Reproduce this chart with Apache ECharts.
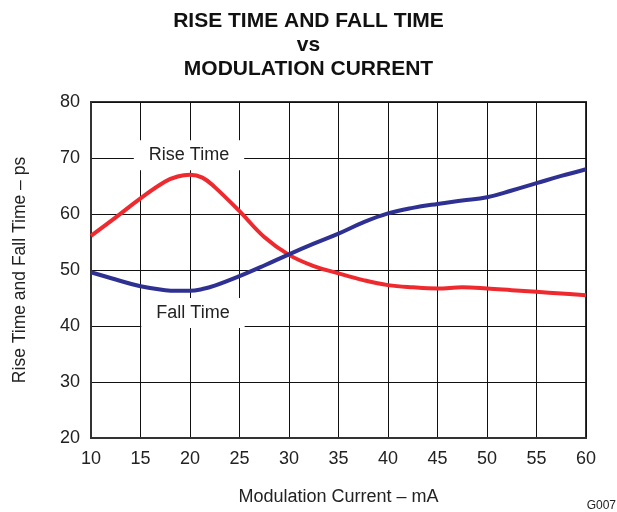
<!DOCTYPE html>
<html><head><meta charset="utf-8">
<script src="https://cdn.jsdelivr.net/npm/echarts@6/dist/echarts.min.js"></script>
<style>html,body{margin:0;padding:0;background:#fff}#c{width:617px;height:512px}</style>
</head><body><div id="c"></div>
<script>
const current = [10, 12.5, 15, 17.5, 18.75, 20, 21.25, 22.5, 25, 27.5, 30, 32.5, 35, 37.5, 40, 42.5, 45, 47.5, 50, 52.5, 55, 57.5, 60];
const riseTime = [56.1, 59.4, 62.8, 65.8, 66.7, 67.0, 66.5, 64.8, 60.5, 55.9, 52.7, 50.7, 49.4, 48.2, 47.3, 46.9, 46.7, 46.9, 46.7, 46.4, 46.1, 45.8, 45.5];
const fallTime = [49.6, 48.3, 47.1, 46.4, 46.3, 46.3, 46.6, 47.2, 48.9, 50.8, 52.8, 54.7, 56.5, 58.5, 60.1, 61.1, 61.8, 62.4, 63.0, 64.2, 65.5, 66.8, 68.0];
const xTicks = [10, 15, 20, 25, 30, 35, 40, 45, 50, 55, 60];
const yTicks = [20, 30, 40, 50, 60, 70, 80];
const labelRise = ['Rise Time', 19.9, 70.5];
const labelFall = ['Fall Time', 20.3, 42.3];

const font = 'Liberation Sans, Arial, sans-serif';
const chart = echarts.init(document.getElementById('c'), null, {renderer: 'canvas'});
function pairs(ys) { return current.map((x, i) => [x, ys[i]]); }
function tag(l) {
  return {
    symbol: 'rect', symbolSize: 1, itemStyle: {color: 'rgba(0,0,0,0)'},
    data: [{coord: [l[1], l[2]], value: l[0]}],
    label: {show: true, position: 'inside', formatter: l[0], color: '#222', fontFamily: font, fontSize: 18,
      backgroundColor: '#fff', padding: [6, 15, 6, 15]}
  };
}
chart.setOption({
  animation: false,
  backgroundColor: '#fff',
  title: {
    text: 'RISE TIME AND FALL TIME\nvs\nMODULATION CURRENT',
    left: 'center', top: 4,
    textStyle: {fontFamily: font, fontWeight: 'bold', fontSize: 21, lineHeight: 24, color: '#111'}
  },
  grid: {left: 91, top: 102, right: 31, bottom: 74, show: true, borderColor: '#333', borderWidth: 2},
  xAxis: {
    type: 'value', min: 10, max: 60, interval: 5,
    name: 'Modulation Current – mA', nameLocation: 'middle', nameGap: 50,
    nameTextStyle: {fontFamily: font, fontSize: 18, color: '#222'},
    axisLine: {show: true, lineStyle: {color: '#333', width: 2}},
    axisTick: {show: false},
    axisLabel: {fontFamily: font, fontSize: 18, color: '#222', margin: 12,
      formatter: v => xTicks.includes(v) ? String(v) : ''},
    splitLine: {show: true, lineStyle: {color: '#111', width: 1}}
  },
  yAxis: {
    type: 'value', min: 20, max: 80, interval: 10,
    name: 'Rise Time and Fall Time – ps', nameLocation: 'middle', nameGap: 62,
    nameTextStyle: {fontFamily: font, fontSize: 17.5, color: '#222'},
    axisLine: {show: true, lineStyle: {color: '#333', width: 2}},
    axisTick: {show: false},
    axisLabel: {fontFamily: font, fontSize: 18, color: '#222', margin: 11,
      formatter: v => yTicks.includes(v) ? String(v) : ''},
    splitLine: {show: true, lineStyle: {color: '#111', width: 1}}
  },
  graphic: [{type: 'text', right: 1, bottom: 0,
    style: {text: 'G007', fontFamily: font, fontSize: 12, fill: '#222'}}],
  series: [
    {name: 'Rise Time', type: 'line', smooth: 0.4, showSymbol: false, data: pairs(riseTime),
     lineStyle: {color: '#ee2a2f', width: 4}, itemStyle: {color: '#ee2a2f'}, z: 3,
     markPoint: tag(labelRise)},
    {name: 'Fall Time', type: 'line', smooth: 0.4, showSymbol: false, data: pairs(fallTime),
     lineStyle: {color: '#2e3192', width: 4}, itemStyle: {color: '#2e3192'}, z: 4,
     markPoint: tag(labelFall)}
  ]
});
</script></body></html>
